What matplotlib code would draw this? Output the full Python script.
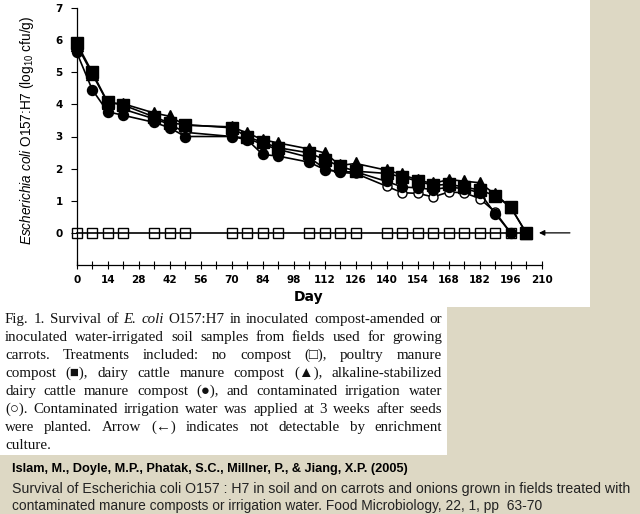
import math
import matplotlib
matplotlib.use('Agg')
import matplotlib.pyplot as plt
from matplotlib import font_manager
from matplotlib.backends.backend_agg import get_hinting_flag
from matplotlib.patches import Rectangle
from matplotlib.ticker import MultipleLocator

# sampling days (d)
days = [0, 7, 14, 21, 35, 42, 49, 70, 77, 84, 91, 105, 112, 119, 126,
        140, 147, 154, 161, 168, 175, 182, 189, 196, 203]
no_compost = [0, 0, 0, 0, 0, 0, 0, 0, 0, 0, 0, 0, 0, 0, 0,
              0, 0, 0, 0, 0, 0, 0, 0, 0, 0]
poultry = [5.91, 5.00, 4.07, 3.98, 3.61, 3.42, 3.37, 3.27, 2.99, 2.82, 2.65, 2.49, 2.28,
           2.07, 1.92, 1.85, 1.74, 1.61, 1.48, 1.51, 1.43, 1.33, 1.16, 0.80, 0.00]
dairy = [5.85, 4.95, 4.05, 4.02, 3.73, 3.63, 3.35, 3.30, 3.11, 2.90, 2.80, 2.61, 2.49,
         2.10, 2.16, 1.95, 1.82, 1.64, 1.54, 1.66, 1.61, 1.56, 1.20, 0.80, 0.00]
alk_days = [0, 7, 14, 21, 35, 42, 49, 70, 77, 84, 91, 105, 112, 119, 126,
            140, 147, 154, 161, 168, 175, 182, 189, 196]
alkaline = [5.62, 4.46, 3.77, 3.66, 3.44, 3.27, 3.00, 3.00, 2.90, 2.44, 2.39, 2.20, 1.97,
            1.90, 1.90, 1.60, 1.43, 1.40, 1.35, 1.42, 1.38, 1.25, 0.60, 0.00]
water_days = [21, 35, 42, 49, 70, 77, 84, 91, 105, 112, 119, 126,
              140, 147, 154, 161, 168, 175, 182, 189, 196]
water = [3.85, 3.55, 3.38, 3.13, 3.00, 2.95, 2.75, 2.60, 2.35, 2.00, 1.88, 1.85,
         1.45, 1.25, 1.23, 1.12, 1.27, 1.25, 1.07, 0.65, 0.00]

caption = [
    "Fig. 1. Survival of E. coli O157:H7 in inoculated compost-amended or",
    "inoculated water-irrigated soil samples from fields used for growing",
    "carrots. Treatments included: no compost (\u25a1), poultry manure",
    "compost (\u25a0), dairy cattle manure compost (\u25b2), alkaline-stabilized",
    "dairy cattle manure compost (\u25cf), and contaminated irrigation water",
    "(\u25cb). Contaminated irrigation water was applied at 3 weeks after seeds",
    "were planted. Arrow (\u2190) indicates not detectable by enrichment",
    "culture.",
]
italic_words = {"E.", "coli"}

ref_title = "Islam, M., Doyle, M.P., Phatak, S.C., Millner, P., & Jiang, X.P. (2005)"
ref_lines = [
    "Survival of Escherichia coli O157 : H7 in soil and on carrots and onions grown in fields treated with",
    "contaminated manure composts or irrigation water. Food Microbiology, 22, 1, pp  63-70",
]

plt.rcParams['mathtext.fontset'] = 'custom'
plt.rcParams['mathtext.it'] = 'Liberation Sans:italic'
plt.rcParams['mathtext.rm'] = 'Liberation Sans'

names = {f.name for f in font_manager.fontManager.ttflist}
narrow = 'Liberation Sans Narrow' if 'Liberation Sans Narrow' in names else 'Liberation Sans'

W, H = 640, 514
fig = plt.figure(figsize=(6.4, 5.14), dpi=100, facecolor='#ddd8c4')
renderer = fig.canvas.get_renderer()


def fx(px):
    return px / W


def fy(py):
    return 1 - py / H


# white panels behind the figure and caption
fig.patches.append(Rectangle((0, fy(307)), fx(590), 307 / H, transform=fig.transFigure,
                             facecolor='white', edgecolor='none', zorder=-10))
fig.patches.append(Rectangle((0, fy(455)), fx(447), 150 / H, transform=fig.transFigure,
                             facecolor='white', edgecolor='none', zorder=-10))

ax = fig.add_axes([fx(76.7), fy(265), fx(465), 257 / H])
ax.patch.set_alpha(0)

ax.plot(days, no_compost, color='black', lw=1.2, marker='s', ms=6.5,
        mfc='none', mec='black', mew=1.0, zorder=3, clip_on=False)
ax.plot(water_days, water, color='black', lw=1.2, marker='o', ms=6.5,
        mfc='white', mec='black', mew=1.0, zorder=4, clip_on=False)
ax.plot(alk_days, alkaline, color='black', lw=1.2, marker='o', ms=7.2,
        mfc='black', mec='black', zorder=5, clip_on=False)
ax.plot(days, dairy, color='black', lw=1.2, marker='^', ms=8.5,
        mfc='black', mec='black', zorder=6, clip_on=False)
ax.plot(days, poultry, color='black', lw=1.2, marker='s', ms=8.3,
        mfc='black', mec='black', zorder=7, clip_on=False)

ax.annotate('', xy=(207.5, 0), xytext=(224, 0), annotation_clip=False,
            arrowprops=dict(arrowstyle='-|>', color='black', lw=0.9, mutation_scale=8))

ax.set_xlim(0, 210)
ax.set_ylim(-1, 7)
ax.spines['top'].set_visible(False)
ax.spines['right'].set_visible(False)
ax.spines['left'].set_linewidth(0.9)
ax.spines['bottom'].set_linewidth(0.9)
ax.xaxis.set_major_locator(MultipleLocator(14))
ax.xaxis.set_minor_locator(MultipleLocator(7))
ax.set_yticks(range(0, 8))
ax.tick_params(axis='x', which='both', direction='inout', length=6, width=0.8, pad=4.5)
ax.tick_params(axis='y', direction='out', length=4, width=0.8, pad=6)
for lab in ax.get_xticklabels() + ax.get_yticklabels():
    lab.set_fontweight('bold')
    lab.set_fontsize(7.5)

fig.text(fx(27), fy(130),
         r'$\mathit{Escherichia\ coli}$ O157:H7 (log$_{10}$ cfu/g)',
         rotation=90, ha='center', va='center', fontsize=9.8,
         family='Liberation Sans')
fig.text(fx(309), fy(297), 'Day', ha='center', va='center', fontsize=10, fontweight='bold')


def snapped_baseline(t, s, row):
    # y (in px from top) that puts the rasterised baseline of t exactly on `row`
    font = renderer._prepare_font(t.get_fontproperties())
    font.set_text(s, 0, flags=get_hinting_flag())
    d = font.get_descent() / 64
    hh = font.get_width_height()[1] / 64
    a = hh - d
    return row + math.floor(hh) - math.floor(a) - d


# caption, justified word by word
serif = ['Liberation Serif', 'DejaVu Sans']
cap_size = 10.8
left, right = 5, 442
for i, line in enumerate(caption):
    row = 323 + 18 * i
    words = line.split(' ')
    items = []
    for w in words:
        style = 'italic' if w in italic_words else 'normal'
        t = fig.text(0, fy(row), w, family=serif, fontsize=cap_size, style=style,
                     va='baseline', ha='left', color='#111111')
        t.set_y(fy(snapped_baseline(t, w, row)))
        items.append((t, t.get_window_extent(renderer).width))
    total = sum(wd for _, wd in items)
    if i < len(caption) - 1 and len(items) > 1:
        gap = (right - left - total) / (len(items) - 1)
    else:
        gap = cap_size * 100 / 72 * 0.25
    x = left
    for t, wd in items:
        t.set_x(fx(x))
        x += wd + gap


def fit_text(s, x, y, width, **kw):
    t = fig.text(fx(x), fy(y), s, ha='left', va='baseline', fontsize=10, **kw)
    wd = t.get_window_extent(renderer).width
    t.set_fontsize(10 * width / wd)
    return t


fit_text(ref_title, 12, 472, 396, family='Liberation Sans', fontweight='bold')
fit_text(ref_lines[0], 12, 493, 616, family=narrow, color='#222222')
fit_text(ref_lines[1], 12, 510, 530, family=narrow, color='#222222')

fig.savefig('out.png', dpi=100, facecolor=fig.get_facecolor())
